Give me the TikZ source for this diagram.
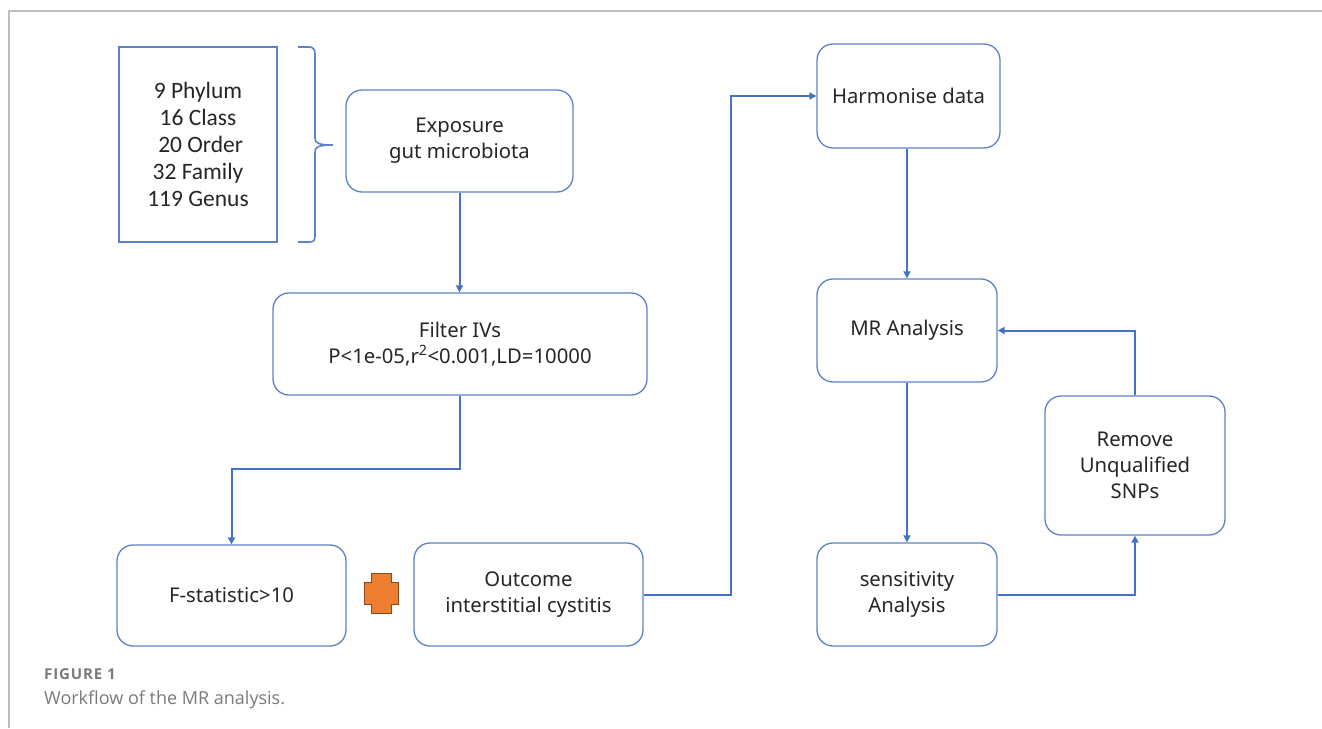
\documentclass[tikz,border=0pt]{standalone}
\usepackage{fontspec}
\setmainfont{Noto Sans}
\newfontfamily\listfont{Carlito}
\newfontfamily\capfont{Open Sans}
\usetikzlibrary{arrows.meta}
\definecolor{flowblue}{HTML}{4472C4}
\definecolor{boxblue}{HTML}{5B82C8}
\definecolor{plusfill}{HTML}{ED7D31}
\definecolor{plusline}{HTML}{8A4A1C}
\definecolor{framegray}{HTML}{BDBDBD}
\definecolor{capgray}{HTML}{7A7A7A}
\tikzset{
  stepbox/.style={draw=boxblue, line width=1.3pt, rounded corners=16pt, fill=white,
    align=center, inner sep=0pt, font=\fontsize{20.3}{26}\selectfont, text=black!85},
  conn/.style={draw=flowblue, line width=2pt},
  arr/.style={conn, -{Triangle[length=7pt,width=7pt]}},
}
\begin{document}
\begin{tikzpicture}[x=1pt,y=-1pt]
\useasboundingbox (0,0) rectangle (1322,728);
% page frame
\draw[framegray, line width=2pt] (1322,11) -- (9,11) -- (9,728);

% taxa list and brace
\node[draw=boxblue, line width=1.3pt, minimum width=158pt, minimum height=195pt,
  inner sep=0pt, align=center, font=\listfont\fontsize{23.5}{27}\selectfont, text=black!85]
  (taxa) at (198,144.5) {9 Phylum\\16 Class\\\ 20 Order\\32 Family\\119 Genus};
\draw[boxblue, line width=1.6pt] (298,47) -- (309,47) .. controls (313,47) and (315,49) .. (315,54)
  -- (315,138) .. controls (315,143) and (318,145) .. (333,145)
  .. controls (318,145) and (315,147) .. (315,152) -- (315,236)
  .. controls (315,241) and (313,242) .. (309,242) -- (298,242);

% boxes
\node[stepbox, minimum width=227pt, minimum height=102pt] (expo) at (459.5,141) {Exposure\\gut microbiota};
\node[stepbox, minimum width=374pt, minimum height=102pt] (filter) at (460,344) {Filter IVs\\P<1e-05,r\textsuperscript{2}<0.001,LD=10000};
\node[stepbox, minimum width=229pt, minimum height=101pt] (fstat) at (231.5,595.5) {F-statistic>10};
\node[stepbox, minimum width=229pt, minimum height=103pt] (outcome) at (528.5,594.5) {Outcome\\interstitial cystitis};
\node[stepbox, minimum width=183pt, minimum height=104pt] (harm) at (908.5,96) {Harmonise data};
\node[stepbox, minimum width=180pt, minimum height=103pt] (mr) at (907,330.5) {MR Analysis};
\node[stepbox, minimum width=180pt, minimum height=103pt] (sens) at (907,594.5) {sensitivity\\Analysis};
\node[stepbox, minimum width=180pt, minimum height=139pt] (remove) at (1135,465.5) {Remove\\Unqualified\\SNPs};

% plus sign between the two inputs
\draw[plusline, fill=plusfill, line width=1pt]
  (371,573) -- (391,573) -- (391,582) -- (398,582) -- (398,604) -- (391,604) -- (391,613)
  -- (371,613) -- (371,604) -- (364,604) -- (364,582) -- (371,582) -- cycle;

% connectors
\coordinate (j1) at (231.5,469);
\coordinate (j2) at (731,0);
\draw[arr] (expo.south) -- (expo.south |- filter.north);
\draw[arr] (filter.south) |- (j1) -- (fstat.north);
\draw[arr] (outcome.east) -- (outcome.east -| j2) -- (harm.west -| j2) -- (harm.west);
\draw[arr] (harm.south -| mr.north) -- (mr.north);
\draw[arr] (mr.south) -- (sens.north);
\draw[arr] (sens.east) -| (remove.south);
\draw[arr] (remove.north) |- (mr.east);

% caption
\node[anchor=base west, inner sep=0pt, text=capgray, font=\capfont\bfseries\fontsize{15}{17}\selectfont\addfontfeatures{LetterSpace=6}] (figno) at (44,679) {FIGURE 1};
\node[anchor=base west, inner sep=0pt, text=capgray, font=\capfont\fontsize{18}{22}\selectfont] (caption) at (44,704) {Workflow of the MR analysis.};
\end{tikzpicture}
\end{document}
